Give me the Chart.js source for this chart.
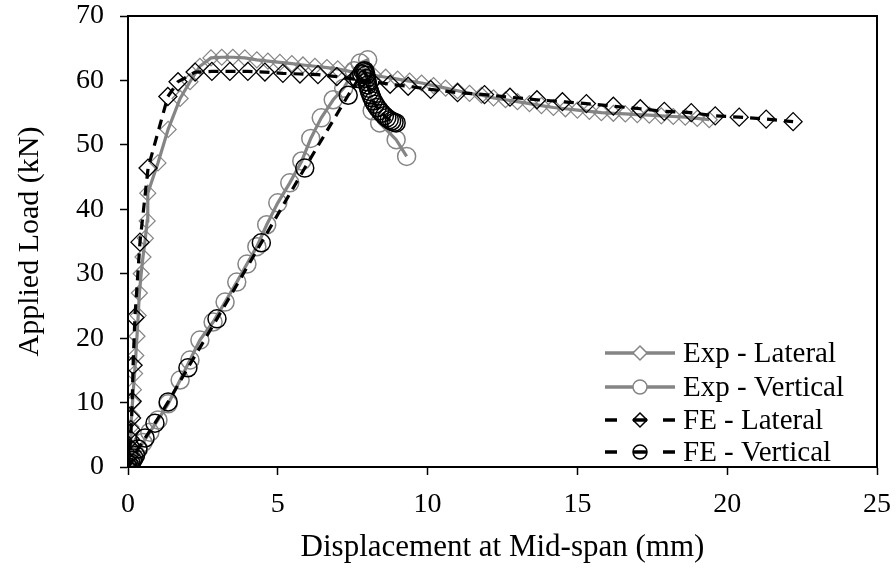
<!DOCTYPE html>
<html><head><meta charset="utf-8">
<script src="https://cdn.jsdelivr.net/npm/chart.js@4/dist/chart.umd.min.js"></script>
<style>html,body{margin:0;padding:0;background:#fff;overflow:hidden;}</style>
</head><body>
<canvas id="c" width="896" height="569"></canvas>
<script>
// ---- data ----
const seriesNames = ['Exp - Lateral', 'Exp - Vertical', 'FE - Lateral', 'FE - Vertical'];
const xTicks = [0, 5, 10, 15, 20, 25];
const yTicks = [0, 10, 20, 30, 40, 50, 60, 70];

const expLatX = [0,0.02,0.04,0.06,0.08,0.1,0.12,0.15,0.18,0.22,0.26,0.3,0.34,0.38,0.44,0.5,0.58,0.64,0.66,1.0,1.34,1.74,2.07,2.4,2.77,3.13,3.5,3.9,4.3,4.67,5.07,5.47,5.84,6.24,6.64,7.0,7.4,7.8,8.2,8.6,9.0,9.4,9.8,10.2,10.6,11.0,11.4,11.8,12.2,12.6,13.0,13.4,13.8,14.2,14.6,15.0,15.4,15.8,16.2,16.6,17.0,17.4,17.8,18.2,18.6,19.0,19.4];
const expLatY = [0,0.8,1.8,3.0,4.5,6.2,8.0,10.0,12.0,14.5,17.3,20.3,23.5,27.0,30.0,32.6,35.5,38.2,42.5,47.2,52.4,57.2,59.8,62.2,63.5,63.6,63.6,63.5,63.2,63.0,62.8,62.6,62.4,62.2,62.0,61.8,61.4,61.1,60.8,60.5,60.2,59.9,59.6,59.2,58.8,58.4,58.0,57.7,57.3,57.0,56.7,56.4,56.1,55.8,55.6,55.4,55.2,55.0,54.9,54.8,54.7,54.6,54.5,54.4,54.3,54.1,53.9];

const expVertX = [0,0.05,0.1,0.15,0.25,0.35,0.5,0.73,1.0,1.34,1.74,2.07,2.4,2.84,3.24,3.63,3.97,4.3,4.63,5.0,5.4,5.8,6.1,6.45,6.85,7.2,7.55,7.75,8.0,8.15,8.4,8.95,9.3];
const expVertY = [0,0.3,0.7,1.2,2.0,2.8,3.8,5.4,7.3,9.8,13.5,16.6,19.7,22.5,25.6,28.7,31.5,34.2,37.6,41.0,44.1,47.5,51.0,54.2,57.0,58.8,61.5,62.7,63.2,55.3,53.4,50.8,48.2];

const feLatX = [0,0.03,0.05,0.07,0.08,0.1,0.12,0.14,0.17,0.23,0.4,0.67,1.33,1.67,2.24,2.8,3.4,4.0,4.57,5.17,5.74,6.34,6.97,7.55,8.15,8.75,9.35,10.1,11.0,11.9,12.75,13.65,14.5,15.3,16.2,17.1,17.9,18.8,19.6,20.4,21.3,22.2];
const feLatY = [0,0.8,1.8,3.0,4.3,5.8,7.6,10.2,15.8,23.2,34.9,46.4,57.5,59.8,61.3,61.4,61.4,61.4,61.3,61.1,61.0,60.9,60.6,60.2,59.8,59.4,59.1,58.6,58.1,57.8,57.4,57.0,56.7,56.4,56.0,55.6,55.2,55.0,54.5,54.3,54.0,53.6];

const feVertX = [0,0.05,0.1,0.15,0.2,0.25,0.33,0.57,0.9,1.34,2.0,2.97,4.45,5.9,7.35,7.7,7.8,7.85,7.9,7.92,7.94,7.96,7.98,8.0,8.03,8.06,8.1,8.14,8.19,8.25,8.32,8.4,8.48,8.56,8.64,8.72,8.8,8.88,8.95];
const feVertY = [0,0.3,0.6,1.0,1.4,1.8,2.8,4.5,6.8,10.1,15.4,23.0,34.8,46.4,57.7,60.3,61.0,61.4,61.5,61.2,60.8,60.3,59.8,59.3,58.8,58.3,57.8,57.3,56.8,56.3,55.8,55.3,54.9,54.5,54.2,53.9,53.7,53.5,53.4];

// ---- build ----
const pts = (xs, ys) => xs.map((x, i) => ({x: x, y: ys[i]}));
const FONT = '"Liberation Serif", "Times New Roman", serif';
const GRAY = '#858585';

const styles = [
  {color: GRAY, dash: [], pointStyle: 'rectRot', r: 8, pw: 1.2, lw: 3.2},
  {color: GRAY, dash: [], pointStyle: 'circle', r: 9, pw: 1.5, lw: 3.2},
  {color: '#000', dash: [10, 7], pointStyle: 'rectRot', r: 9, pw: 1.3, lw: 3.2},
  {color: '#000', dash: [10, 7], pointStyle: 'circle', r: 9, pw: 1.5, lw: 3.2}
];
const seriesData = [pts(expLatX, expLatY), pts(expVertX, expVertY), pts(feLatX, feLatY), pts(feVertX, feVertY)];

// FE drawn on top: first datasets in array are drawn last
const drawOrder = [2, 3, 0, 1];
const datasets = drawOrder.map(i => ({
  label: seriesNames[i],
  data: seriesData[i],
  showLine: true,
  borderColor: styles[i].color,
  borderWidth: styles[i].lw,
  borderDash: styles[i].dash,
  backgroundColor: 'rgba(0,0,0,0)',
  pointStyle: styles[i].pointStyle,
  pointRadius: styles[i].r,
  pointBorderColor: styles[i].color,
  pointBackgroundColor: 'rgba(0,0,0,0)',
  pointBorderWidth: styles[i].pw,
  tension: 0
}));

const frame = {
  id: 'frame',
  afterDraw(chart) {
    const {ctx, chartArea: a} = chart;
    ctx.save();
    ctx.strokeStyle = '#000';
    ctx.lineWidth = 2;
    ctx.strokeRect(a.left, a.top, a.right - a.left, a.bottom - a.top);
    ctx.restore();
  }
};

const customLegend = {
  id: 'customLegend',
  afterDraw(chart) {
    const ctx = chart.ctx;
    const x0 = 605, x1 = 675, xm = 640, tx = 683;
    const rows = [353, 387, 420, 452];
    ctx.save();
    ctx.font = '29px ' + FONT;
    ctx.textBaseline = 'middle';
    ctx.textAlign = 'left';
    seriesNames.forEach((name, i) => {
      const s = styles[i];
      const y = rows[i];
      ctx.strokeStyle = s.color;
      ctx.lineWidth = 3.5;
      ctx.setLineDash([]);
      ctx.beginPath();
      if (i < 2) {
        ctx.moveTo(x0, y); ctx.lineTo(x1, y);
      } else {
        ctx.moveTo(x0, y); ctx.lineTo(x0 + 12, y);
        ctx.moveTo(xm - 7, y); ctx.lineTo(xm + 7, y);
        ctx.moveTo(x1 - 12, y); ctx.lineTo(x1, y);
      }
      ctx.stroke();
      const r = 7;
      ctx.lineWidth = 1.5;
      ctx.beginPath();
      if (s.pointStyle === 'circle') {
        ctx.arc(xm, y, r, 0, Math.PI * 2);
      } else {
        ctx.moveTo(xm, y - r); ctx.lineTo(xm + r, y); ctx.lineTo(xm, y + r); ctx.lineTo(xm - r, y); ctx.closePath();
      }
      if (i < 2) { ctx.fillStyle = '#fff'; ctx.fill(); }
      ctx.stroke();
      ctx.fillStyle = '#000';
      ctx.fillText(name, tx, y + 1);
    });
    ctx.restore();
  }
};

Chart.defaults.color = '#000';
Chart.defaults.font.family = FONT;

new Chart(document.getElementById('c'), {
  type: 'scatter',
  data: {datasets: datasets},
  options: {
    responsive: false,
    animation: false,
    layout: {padding: {top: 16, right: 19, left: 0, bottom: 0}},
    plugins: {legend: {display: false}, tooltip: {enabled: false}},
    scales: {
      x: {
        type: 'linear', min: 0, max: 25,
        afterBuildTicks: s => { s.ticks = xTicks.map(v => ({value: v})); },
        afterFit: s => { s.height = 102; s.paddingLeft = 0; s.paddingRight = 0; },
        ticks: {font: {size: 28}, padding: 13, maxRotation: 0},
        grid: {drawOnChartArea: false, tickLength: 8, tickColor: '#000', tickWidth: 1.5},
        border: {display: true, color: '#000', width: 2},
        title: {display: true, text: 'Displacement at Mid-span (mm)', font: {size: 31}, padding: {top: 2, bottom: 3}}
      },
      y: {
        type: 'linear', min: 0, max: 70,
        afterBuildTicks: s => { s.ticks = yTicks.map(v => ({value: v})); },
        afterFit: s => { s.width = 128; s.paddingTop = 0; s.paddingBottom = 0; },
        ticks: {font: {size: 28}, padding: 16},
        grid: {drawOnChartArea: false, tickLength: 8, tickColor: '#000', tickWidth: 1.5},
        border: {display: true, color: '#000', width: 2},
        title: {display: true, text: 'Applied Load (kN)', font: {size: 30}, padding: {top: 12, bottom: 4}}
      }
    }
  },
  plugins: [frame, customLegend]
});
</script>
</body></html>
